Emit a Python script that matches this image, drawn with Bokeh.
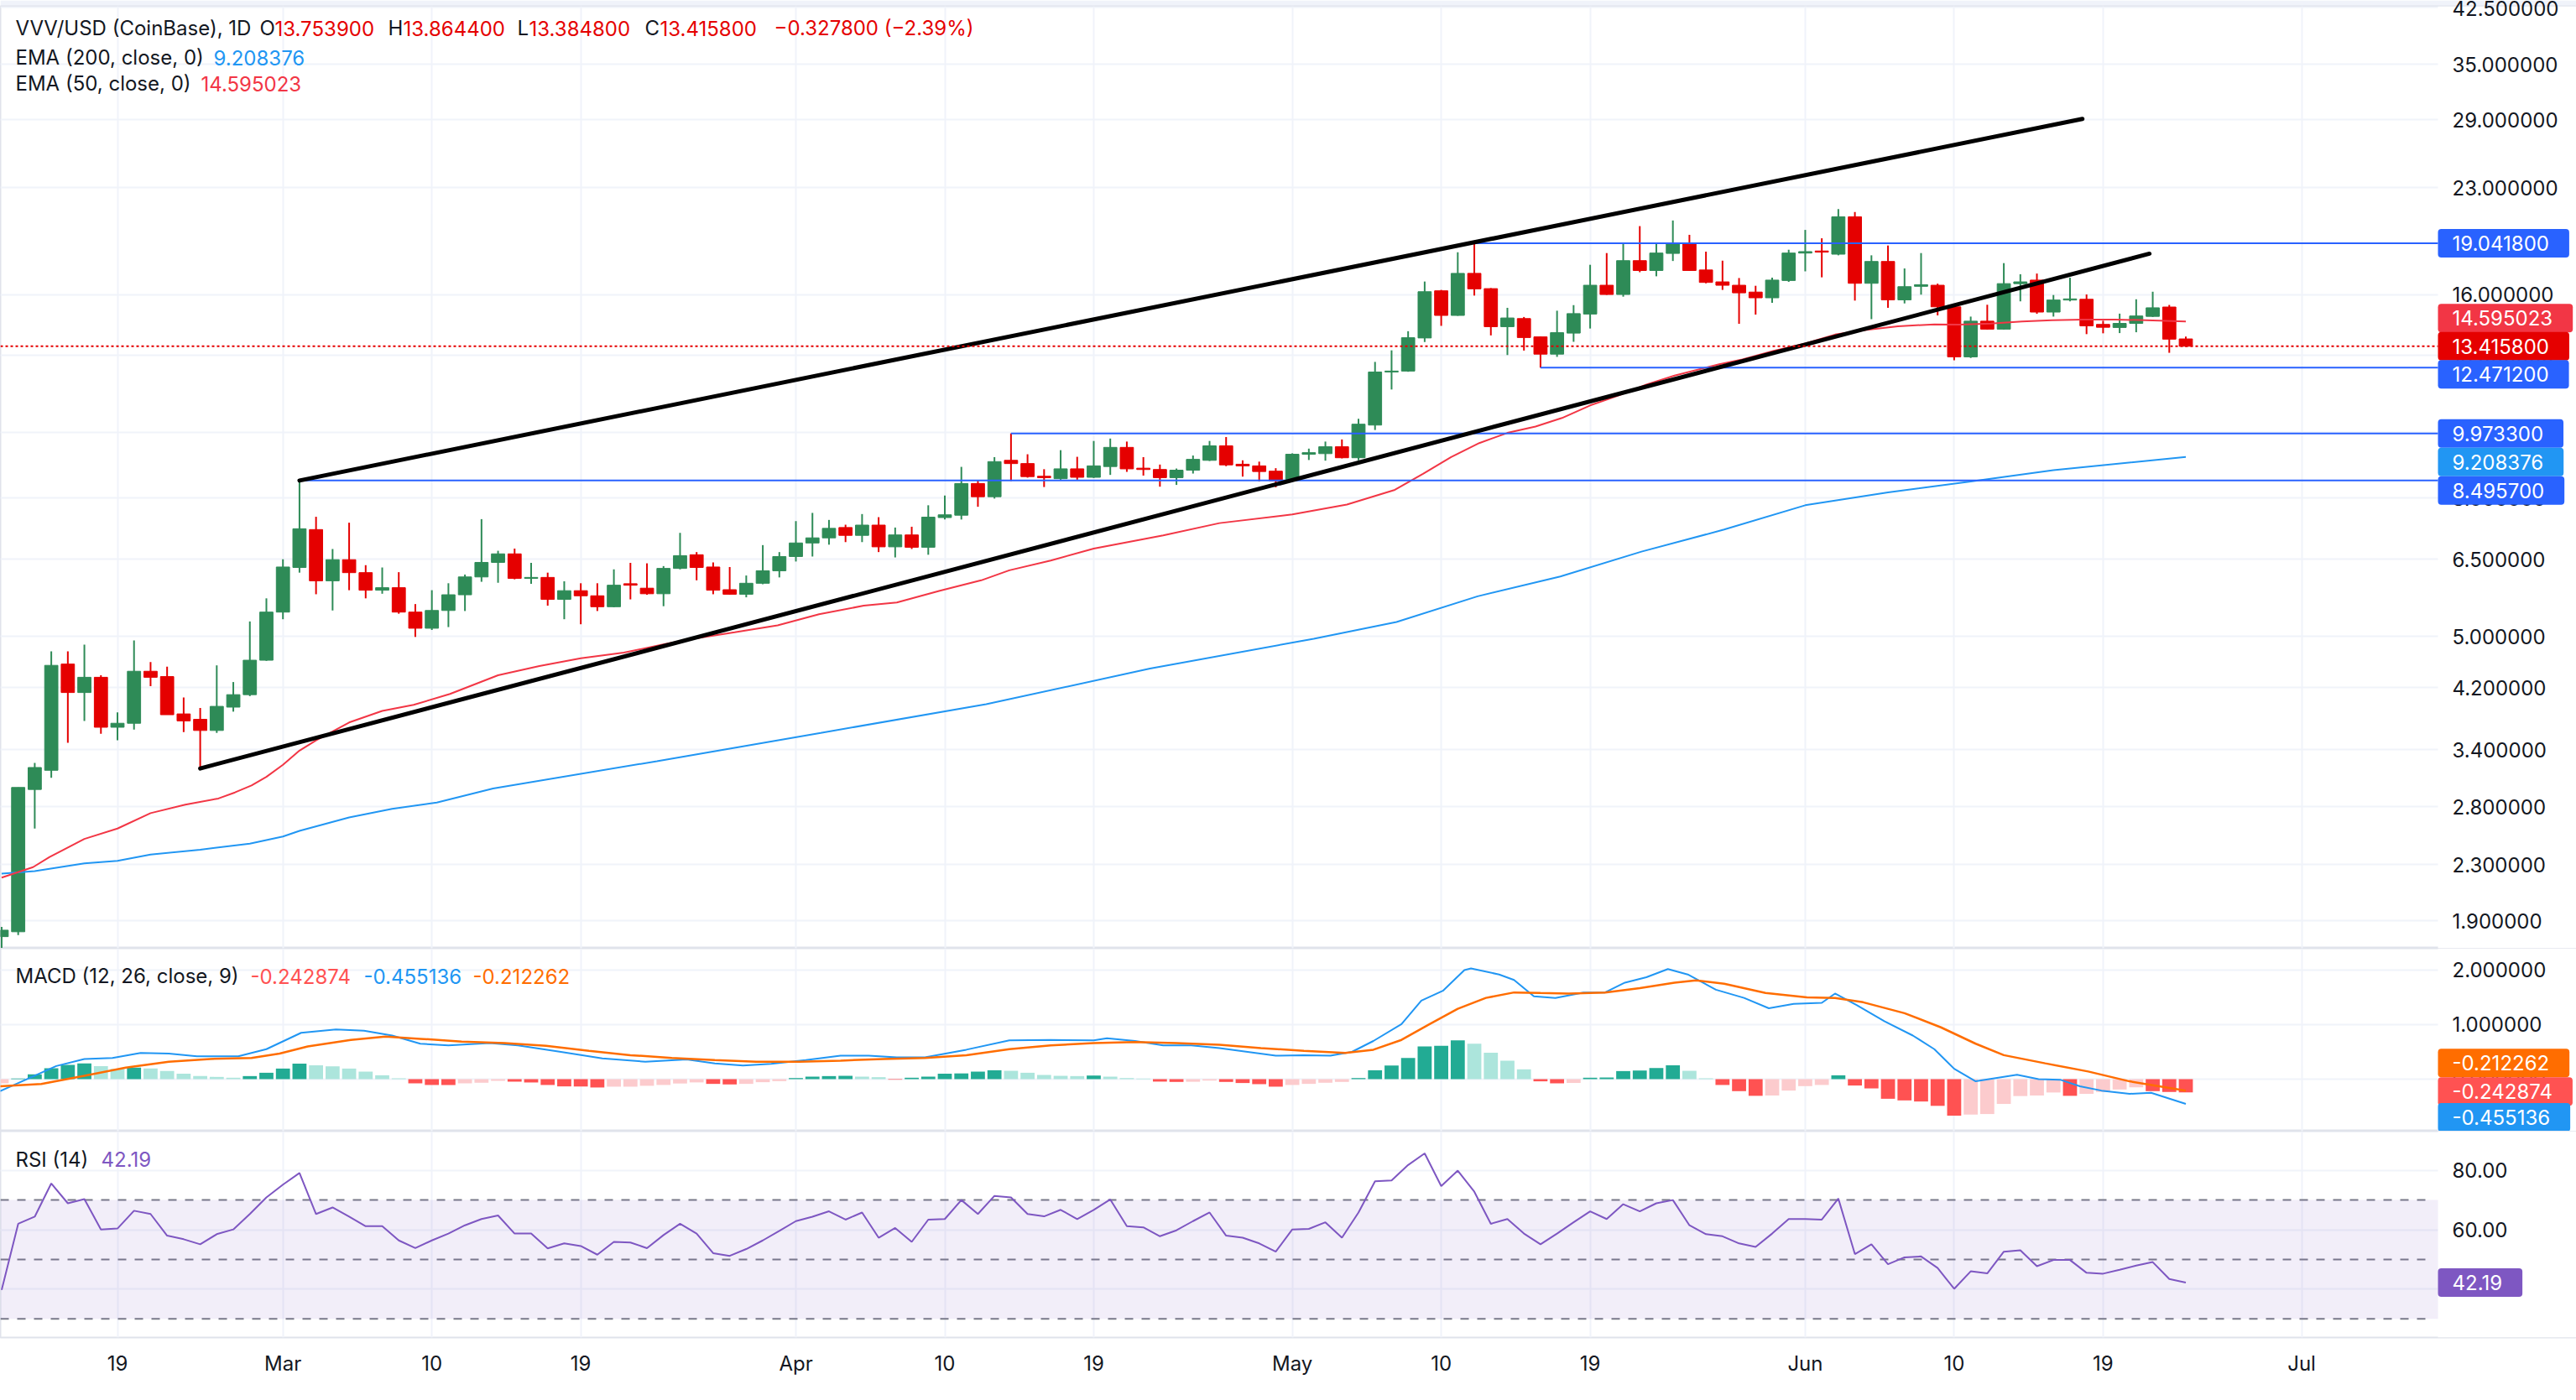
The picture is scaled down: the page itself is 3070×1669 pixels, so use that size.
import pandas as pd
from bokeh.plotting import figure
from bokeh.layouts import column
from bokeh.models import (Range1d, FixedTicker, PrintfTickFormatter, Grid, Label,
                          BoxAnnotation, ColumnDataSource)
from bokeh.embed import file_html
from bokeh.resources import INLINE

# ------------------------------------------------------------------ data
start_date = "2025-02-12"          # first daily candle (VVV/USD, CoinBase, 1D)
origin_date = "2025-02-19"         # day index 0

opens = [1.80, 1.83, 2.97, 3.17, 4.55, 4.13, 4.35, 3.67, 3.72, 4.44,
         4.36, 3.84, 3.77, 3.63, 3.93, 4.10, 4.61, 5.43, 6.32, 7.19,
         6.04, 6.49, 6.21, 5.85, 5.90, 5.43, 5.14, 5.46, 5.76, 6.12,
         6.43, 6.62, 6.09, 6.11, 5.67, 5.84, 5.74, 5.53, 5.98, 5.89,
         5.78, 6.30, 6.60, 6.33, 5.86, 5.77, 5.99, 6.25, 6.56, 6.87,
         6.99, 7.24, 7.05, 7.30, 6.78, 7.06, 6.77, 7.49, 7.55, 8.41,
         8.04, 9.10, 9.00, 8.62, 8.55, 8.84, 8.59, 8.91, 9.51, 8.86,
         8.82, 8.58, 8.80, 9.10, 9.56, 8.98, 8.93, 8.77, 8.50, 9.29,
         9.31, 9.53, 9.18, 10.26, 12.29, 12.33, 13.80, 16.20, 14.90, 17.19,
         16.32, 14.34, 14.74, 13.85, 13.06, 14.03, 14.97, 16.51, 16.00, 17.95,
         17.36, 18.40, 19.04, 17.39, 16.70, 16.51, 16.13, 15.82, 16.78, 18.42,
         18.55, 18.35, 20.84, 16.62, 17.90, 15.71, 16.45, 16.51, 15.34, 12.94,
         14.61, 14.22, 16.60, 16.80, 15.07, 15.70, 15.74, 14.45, 14.30, 14.50,
         14.85, 15.33, 13.7539]
highs = [1.86, 2.99, 3.25, 4.75, 4.75, 4.86, 4.38, 3.86, 4.93, 4.58,
         4.51, 4.06, 3.92, 4.53, 4.28, 5.26, 5.69, 6.50, 8.4957, 7.51,
         6.73, 7.36, 6.37, 6.32, 6.22, 5.58, 5.85, 5.99, 6.17, 7.45,
         6.69, 6.74, 6.42, 6.21, 6.03, 5.99, 5.99, 6.28, 6.42, 6.41,
         6.35, 7.11, 6.66, 6.43, 6.33, 6.15, 6.82, 6.66, 7.40, 7.61,
         7.43, 7.31, 7.58, 7.50, 7.24, 7.26, 7.81, 8.07, 8.90, 8.50,
         9.20, 9.9733, 9.29, 8.83, 9.42, 9.21, 9.72, 9.80, 9.70, 9.20,
         8.97, 8.85, 9.25, 9.72, 9.85, 9.10, 9.06, 8.86, 9.32, 9.47,
         9.70, 9.77, 10.48, 12.72, 13.23, 14.12, 16.72, 16.25, 18.47, 19.0418,
         16.35, 15.29, 14.82, 13.87, 15.14, 15.43, 17.70, 18.42, 19.04, 20.19,
         19.06, 20.58, 19.60, 18.51, 17.95, 16.92, 16.48, 16.94, 18.63, 19.93,
         19.37, 21.40, 21.18, 18.28, 18.90, 17.48, 18.42, 16.60, 15.46, 14.84,
         15.45, 17.80, 17.14, 17.18, 15.97, 16.94, 16.00, 14.63, 14.99, 15.74,
         16.15, 15.44, 13.8644]
lows = [1.72, 1.81, 2.60, 3.09, 3.48, 3.75, 3.59, 3.51, 3.64, 4.22,
        3.83, 3.61, 3.19, 3.60, 3.87, 4.08, 4.60, 5.30, 6.21, 5.77,
        5.46, 5.85, 5.69, 5.78, 5.40, 4.99, 5.11, 5.16, 5.45, 6.02,
        6.00, 6.07, 5.98, 5.55, 5.30, 5.21, 5.45, 5.52, 5.67, 5.76,
        5.54, 6.28, 6.05, 5.77, 5.76, 5.71, 5.97, 6.11, 6.45, 6.56,
        6.83, 6.89, 6.89, 6.66, 6.54, 6.73, 6.60, 7.44, 7.44, 7.77,
        7.99, 8.48, 8.58, 8.31, 8.52, 8.52, 8.57, 8.66, 8.75, 8.64,
        8.32, 8.37, 8.70, 9.08, 8.92, 8.61, 8.47, 8.30, 8.48, 9.11,
        9.09, 9.16, 9.10, 10.09, 11.58, 12.30, 13.61, 14.38, 14.88, 15.94,
        13.92, 13.02, 13.22, 12.4712, 12.94, 13.62, 14.25, 15.98, 15.88, 17.26,
        17.02, 17.93, 17.34, 16.62, 16.25, 14.48, 14.94, 15.55, 16.70, 17.31,
        16.96, 18.28, 15.67, 14.71, 15.29, 15.52, 15.99, 14.90, 12.79, 12.89,
        14.20, 14.20, 15.63, 14.98, 14.84, 15.63, 13.98, 14.02, 14.03, 14.07,
        14.82, 13.12, 13.3848]
closes = [1.84, 2.99, 3.20, 4.53, 4.13, 4.35, 3.67, 3.72, 4.44, 4.35,
          3.83, 3.75, 3.63, 3.94, 4.10, 4.61, 5.43, 6.33, 7.21, 6.04,
          6.49, 6.21, 5.85, 5.90, 5.43, 5.14, 5.46, 5.76, 6.12, 6.43,
          6.62, 6.09, 6.11, 5.67, 5.84, 5.74, 5.53, 5.95, 5.95, 5.78,
          6.30, 6.58, 6.32, 5.85, 5.77, 5.99, 6.25, 6.56, 6.87, 6.99,
          7.22, 7.05, 7.30, 6.78, 7.06, 6.77, 7.50, 7.56, 8.41, 8.04,
          9.06, 9.00, 8.61, 8.58, 8.84, 8.59, 8.93, 9.51, 8.84, 8.82,
          8.58, 8.80, 9.13, 9.56, 8.96, 8.93, 8.76, 8.49, 9.29, 9.34,
          9.53, 9.18, 10.29, 12.29, 12.33, 13.81, 16.15, 14.90, 17.19, 16.31,
          14.34, 14.77, 13.82, 13.06, 14.05, 14.99, 16.51, 16.00, 17.95, 17.36,
          18.42, 19.04, 17.36, 16.67, 16.51, 16.09, 15.82, 16.80, 18.42, 18.51,
          18.48, 20.84, 16.62, 17.90, 15.71, 16.43, 16.54, 15.34, 12.94, 14.61,
          14.22, 16.60, 16.70, 15.07, 15.70, 15.76, 14.38, 14.31, 14.50, 14.87,
          15.29, 13.7436, 13.4158]

ema50_days = [-7, -5.1, -4.1, -2, 0, 2, 4.1, 6.1, 7.1, 8.1, 9, 10, 11, 12, 14, 16, 17.9, 20.1,
              23, 25.5, 28, 30.6, 33.1, 34.8, 37.3, 39.9, 42.4, 45.1, 47.1, 49.7, 52.2, 53.9,
              56.4, 59, 63.2, 66.6, 71, 74.3, 77.2, 78.9, 80.6, 82.3, 84, 85.7, 87.3, 89, 90.7,
              92.4, 94.1, 96.8, 98.2, 100.1, 102, 103.8, 105.7, 107.6, 109.8, 111.3, 113.2,
              115.1, 116.9, 118.8, 120.7, 122.6, 125]
ema50_vals = [2.20, 2.28, 2.36, 2.51, 2.60, 2.74, 2.82, 2.88, 2.94, 3.01, 3.10, 3.23, 3.39, 3.51,
              3.73, 3.88, 3.96, 4.11, 4.38, 4.52, 4.64, 4.73, 4.87, 4.96, 5.07, 5.19, 5.39, 5.55,
              5.61, 5.84, 6.05, 6.26, 6.47, 6.74, 7.05, 7.35, 7.57, 7.83, 8.23, 8.69, 9.20, 9.65,
              9.99, 10.21, 10.51, 10.97, 11.34, 11.78, 12.14, 12.62, 12.83, 13.21, 13.54, 13.96,
              14.18, 14.36, 14.45, 14.44, 14.49, 14.59, 14.66, 14.69, 14.69, 14.66, 14.595023]
ema200_days = [-7, -5, -2, 0, 2, 5, 8, 10, 11, 14, 16.6, 19.3, 22.7, 32.6, 42.5, 52.5, 62.4,
               72.3, 77.3, 82.2, 87.2, 92.1, 97.1, 102, 107, 112, 117, 125]
ema200_vals = [2.23, 2.25, 2.31, 2.33, 2.38, 2.42, 2.47, 2.53, 2.58, 2.70, 2.78, 2.84, 2.98, 3.27,
               3.60, 3.97, 4.48, 4.96, 5.25, 5.73, 6.13, 6.67, 7.19, 7.81, 8.16, 8.47, 8.80, 9.208376]

macd_days = [-7.1, -5.4, -3.7, -2.0, -0.3, 1.4, 3.1, 4.8, 7.3, 9.0, 11.1, 13.2, 14.9, 16.6, 18.3,
             20.0, 22.5, 24.2, 26.8, 29.3, 31.9, 34.4, 36.1, 37.8, 39.5, 41.6, 43.7, 45.4, 47.1,
             48.8, 51.3, 53.9, 56.4, 59.0, 59.8, 61.5, 63.2, 64.9, 66.6, 68.3, 70.0, 71.7, 73.3,
             74.6, 75.9, 77.6, 78.8, 80.1, 81.4, 81.8, 83.5, 84.4, 85.6, 86.9, 88.6, 89.9, 91.1,
             92.4, 93.7, 94.9, 96.6, 98.3, 99.8, 101.3, 103.0, 103.8, 105.1, 106.8, 108.5, 109.8,
             111.0, 112.3, 114.8, 116.1, 117.4, 118.6, 119.9, 121.6, 122.9, 125]
macd_vals = [-0.22, 0.01, 0.24, 0.37, 0.39, 0.48, 0.47, 0.42, 0.42, 0.55, 0.85, 0.91, 0.89, 0.80,
             0.65, 0.62, 0.66, 0.62, 0.50, 0.38, 0.32, 0.36, 0.29, 0.25, 0.28, 0.35, 0.43, 0.43,
             0.40, 0.40, 0.54, 0.71, 0.72, 0.71, 0.75, 0.70, 0.62, 0.62, 0.57, 0.50, 0.43, 0.44,
             0.43, 0.50, 0.70, 1.01, 1.44, 1.62, 2.00, 2.03, 1.92, 1.82, 1.52, 1.49, 1.59, 1.59,
             1.77, 1.87, 2.02, 1.92, 1.64, 1.49, 1.30, 1.38, 1.40, 1.57, 1.36, 1.06, 0.80, 0.55,
             0.19, -0.04, 0.08, 0.00, -0.01, -0.13, -0.21, -0.27, -0.25, -0.455136]
signal_days = [-7.1, -4.6, -2.0, 0.5, 3.1, 5.6, 8.1, 9.8, 11.5, 14.1, 16.2, 18.3, 20.8, 23.4, 25.9,
               28.5, 31.0, 33.5, 36.1, 38.6, 41.2, 43.7, 46.3, 48.8, 51.3, 53.9, 56.4, 59.0, 61.5,
               64.0, 66.6, 69.1, 71.7, 74.2, 75.9, 77.6, 79.3, 81.0, 82.7, 84.4, 86.0, 87.7, 89.9,
               92.0, 94.1, 95.4, 97.1, 99.6, 102.1, 103.8, 105.5, 108.0, 110.2, 112.3, 114.0, 116.5,
               119.1, 121.6, 125]
signal_vals = [-0.13, -0.09, 0.06, 0.21, 0.32, 0.37, 0.39, 0.47, 0.60, 0.72, 0.78, 0.74, 0.69, 0.66,
               0.61, 0.52, 0.44, 0.39, 0.35, 0.32, 0.32, 0.34, 0.37, 0.39, 0.44, 0.55, 0.62, 0.66,
               0.68, 0.66, 0.63, 0.57, 0.52, 0.48, 0.54, 0.72, 1.01, 1.29, 1.49, 1.59, 1.58, 1.57,
               1.59, 1.67, 1.77, 1.81, 1.75, 1.58, 1.50, 1.49, 1.41, 1.21, 0.95, 0.65, 0.44, 0.29,
               0.14, -0.04, -0.212262]
hist_vals = [-0.077, 0.010, 0.087, 0.200, 0.260, 0.290, 0.240, 0.190, 0.210, 0.195,
             0.150, 0.100, 0.056, 0.041, 0.026, 0.056, 0.117, 0.194, 0.286, 0.255,
             0.235, 0.194, 0.138, 0.071, 0.015, -0.077, -0.107, -0.108, -0.077, -0.066,
             -0.031, -0.046, -0.061, -0.107, -0.133, -0.135, -0.153, -0.138, -0.138, -0.122,
             -0.107, -0.080, -0.060, -0.087, -0.097, -0.087, -0.056, -0.036, 0.020, 0.046,
             0.056, 0.061, 0.046, 0.036, -0.010, 0.026, 0.046, 0.100, 0.105, 0.138,
             0.163, 0.153, 0.117, 0.077, 0.061, 0.056, 0.066, 0.046, 0.020, 0.010,
             -0.045, -0.051, -0.048, -0.026, -0.051, -0.071, -0.092, -0.138, -0.107, -0.087,
             -0.066, -0.051, 0.020, 0.163, 0.250, 0.390, 0.600, 0.610, 0.710, 0.650,
             0.485, 0.340, 0.180, -0.040, -0.077, -0.070, 0.026, 0.030, 0.148, 0.158,
             0.204, 0.255, 0.153, 0.015, -0.107, -0.220, -0.306, -0.300, -0.210, -0.128,
             -0.107, 0.070, -0.117, -0.170, -0.360, -0.390, -0.410, -0.490, -0.670, -0.650,
             -0.640, -0.455, -0.310, -0.300, -0.245, -0.306, -0.270, -0.235, -0.190, -0.150,
             -0.220, -0.235, -0.242874]
rsi_vals = [39.7, 62.0, 64.4, 75.6, 68.9, 70.3, 60.1, 60.4, 66.4, 65.3,
            58.0, 56.8, 55.1, 58.5, 60.1, 65.3, 70.9, 75.2, 79.1, 65.3,
            67.5, 64.4, 61.2, 61.2, 56.4, 53.8, 56.4, 58.7, 61.5, 63.6,
            64.8, 58.7, 58.7, 53.7, 55.4, 54.5, 51.6, 55.9, 55.7, 53.8,
            58.2, 62.0, 58.7, 52.1, 51.2, 53.5, 56.4, 59.6, 62.9, 64.4,
            66.2, 63.4, 65.8, 57.3, 60.6, 55.9, 63.4, 63.6, 70.0, 65.3,
            71.4, 70.9, 65.3, 64.5, 66.7, 63.6, 66.7, 70.2, 61.2, 60.8,
            57.8, 59.8, 62.9, 65.8, 58.0, 57.3, 55.4, 52.6, 60.1, 60.3,
            62.5, 57.3, 65.8, 76.3, 76.6, 81.8, 85.7, 74.7, 79.9, 72.8,
            62.0, 63.6, 58.7, 55.1, 58.7, 62.5, 66.2, 63.6, 68.6, 66.2,
            68.9, 70.0, 61.5, 58.5, 57.8, 55.4, 54.2, 58.7, 63.6, 63.6,
            63.4, 70.5, 51.8, 55.1, 48.4, 50.7, 51.0, 47.1, 40.1, 46.0,
            45.3, 52.6, 53.1, 47.7, 49.8, 49.8, 45.5, 45.2, 46.5, 47.9,
            49.1, 43.4, 42.19]

# horizontal levels: start candle (day index) and which extreme of that candle
level_days = [82, 86, 54, 11]
level_kind = ["high", "low", "high", "high"]
# channel trend lines (day index, price)
upper_days = [11, 118.75]
upper_vals = [8.4957, 29.07]
lower_days = [5, 122.8]
lower_vals = [3.19, 18.38]
rsi_levels = [70, 50, 30]

tick_dates = ["2025-02-19", "2025-03-01", "2025-03-10", "2025-03-19", "2025-04-01", "2025-04-10",
              "2025-04-19", "2025-05-01", "2025-05-10", "2025-05-19", "2025-06-01", "2025-06-10",
              "2025-06-19", "2025-07-01"]
tick_labels = ["19", "Mar", "10", "19", "Apr", "10", "19", "May", "10", "19", "Jun", "10", "19", "Jul"]
price_ticks = [1.9, 2.3, 2.8, 3.4, 4.2, 5.0, 6.5, 8.0, 10.0, 13.0, 16.0, 23.0, 29.0, 35.0, 42.5]
macd_ticks = [0, 1, 2]
rsi_ticks = [40, 60, 80]

# ------------------------------------------------------------------ style
FONT = "Inter"
TXT = "#131722"
UP = "#2e8b57"
DOWN = "#e50000"
GRID = "#f0f3fa"
SEP = "#e0e3eb"
BLUE_LVL = "#2962ff"
EMA200_C = "#2196f3"
EMA50_C = "#f23645"
FS = "24px"

origin = pd.Timestamp(origin_date)
dates = pd.date_range(start_date, periods=len(closes), freq="D")
days = [(d - origin).days for d in dates]
tick_days = [(pd.Timestamp(t) - origin).days for t in tick_dates]

PX_PER_DAY = 19.72
TOTAL_W = 3070          # frame spans the whole width; price scale sits on its right part
PLOT_W = 2905           # width of the chart area left of the price scale
x_start = -139.5 / PX_PER_DAY
x_edge = x_start + PLOT_W / PX_PER_DAY
x_end = x_start + TOTAL_W / PX_PER_DAY
xr = Range1d(x_start, x_end)


def make_fig(h, yr, ytype="linear", top=0, bottom=0, xaxis=None):
    p = figure(frame_width=TOTAL_W, frame_height=h, x_range=xr, y_range=yr, y_axis_type=ytype,
               x_axis_location=xaxis, y_axis_location="right", toolbar_location=None,
               output_backend="svg", title=None, min_border_left=0, min_border_right=0,
               min_border_top=top, min_border_bottom=bottom)
    p.background_fill_color = "white"
    p.border_fill_color = "white"
    p.outline_line_color = SEP
    p.outline_line_width = 2
    for g in p.xgrid:
        g.visible = False
    p.add_layout(Grid(dimension=0, ticker=FixedTicker(ticks=tick_days),
                      grid_line_color=GRID, grid_line_width=2))
    return p


def style_y(p, ticks, fmt):
    ax = p.yaxis[0]
    ax.ticker = FixedTicker(ticks=ticks)
    ax.formatter = PrintfTickFormatter(format=fmt)
    ax.axis_line_color = None
    ax.major_tick_line_color = None
    ax.minor_tick_line_color = None
    ax.major_tick_out = 0
    ax.major_tick_in = 0
    ax.major_label_standoff = -(TOTAL_W - PLOT_W - 17)
    ax.major_label_text_font = FONT
    ax.major_label_text_font_size = FS
    ax.major_label_text_color = TXT
    p.ygrid.ticker = FixedTicker(ticks=ticks)
    p.ygrid.grid_line_color = GRID
    p.ygrid.grid_line_width = 2
    # price-scale area: keep it clean of grid lines
    p.add_layout(BoxAnnotation(left=x_edge, fill_color="white", fill_alpha=1.0,
                               line_color=None, level="underlay"))


def text(p, x, y, s, color):
    p.add_layout(Label(x=x, y=y, x_units="screen", y_units="screen", text=s, text_color=color,
                       text_font=FONT, text_font_size=FS, text_align="left",
                       text_baseline="middle"))


def tag(p, val, s, color, yoff=0):
    p.add_layout(Label(x=PLOT_W, y=val, x_units="screen", y_units="data", text=s,
                       text_color="white", text_font=FONT, text_font_size=FS,
                       text_align="left", text_baseline="middle", y_offset=yoff,
                       background_fill_color=color, background_fill_alpha=1.0,
                       border_radius=4,
                       padding=dict(left=17, right=24, top=8, bottom=8)))


# ------------------------------------------------------------------ main pane
MAIN_H = 1123
p1 = make_fig(MAIN_H, Range1d(1.730, 42.65), ytype="log", top=7)
p1.border_fill_color = "#f0f3fa"
style_y(p1, price_ticks, "%.6f")

colors = [UP if c >= o else DOWN for o, c in zip(opens, closes)]
src = ColumnDataSource(dict(x=days, o=opens, h=highs, l=lows, c=closes,
                            top=[max(o, c) for o, c in zip(opens, closes)],
                            bot=[min(o, c) for o, c in zip(opens, closes)],
                            color=colors))
p1.segment("x", "l", "x", "h", source=src, line_color="color", line_width=2)
p1.vbar(x="x", width=0.8, top="top", bottom="bot", source=src,
        fill_color="color", line_color="color", line_width=1)

p1.line(ema200_days, ema200_vals, line_color=EMA200_C, line_width=2)
p1.line(ema50_days, ema50_vals, line_color=EMA50_C, line_width=2)

lvl_vals = [highs[days.index(d)] if k == "high" else lows[days.index(d)]
            for d, k in zip(level_days, level_kind)]
p1.segment(x0=level_days, y0=lvl_vals, x1=[x_edge] * len(level_days), y1=lvl_vals,
           line_color=BLUE_LVL, line_width=2)
p1.line(upper_days, upper_vals, line_color="black", line_width=5, line_cap="round")
p1.line(lower_days, lower_vals, line_color="black", line_width=5, line_cap="round")

# last-price dotted line
p1.segment(x0=[x_start], y0=[closes[-1]], x1=[x_edge], y1=[closes[-1]],
           line_color="#e50000", line_width=2, line_dash="3 3")

# right price tags (stacked like the price scale does)
tag(p1, lvl_vals[0], f"{lvl_vals[0]:.6f}", BLUE_LVL)
tag(p1, ema50_vals[-1], f"{ema50_vals[-1]:.6f}", EMA50_C, 4)
tag(p1, closes[-1], f"{closes[-1]:.6f}", "#e50000")
tag(p1, lvl_vals[1], f"{lvl_vals[1]:.6f}", BLUE_LVL, -8)
tag(p1, lvl_vals[2], f"{lvl_vals[2]:.6f}", BLUE_LVL)
tag(p1, ema200_vals[-1], f"{ema200_vals[-1]:.6f}", EMA200_C, -6)
tag(p1, lvl_vals[3], f"{lvl_vals[3]:.6f}", BLUE_LVL, -12)

# legend (top-left)
chg = closes[-1] - closes[-2]
pct = chg / closes[-2] * 100
chg_s = f"{chg:.6f} ({pct:.2f}%)".replace("-", "\u2212")
L1 = MAIN_H - 33 + 7
text(p1, 18, L1, "VVV/USD (CoinBase), 1D", TXT)
for letter, lx, v in [("O", 309, opens[-1]), ("H", 462, highs[-1]),
                      ("L", 616, lows[-1]), ("C", 768, closes[-1])]:
    text(p1, lx, L1, letter, TXT)
    text(p1, lx + (14 if letter == "L" else 18), L1, f"{v:.6f}", "#e50000")
text(p1, 922, L1, chg_s, "#e50000")
text(p1, 18, MAIN_H - 68 + 7, "EMA (200, close, 0)", TXT)
text(p1, 254, MAIN_H - 68 + 7, f"{ema200_vals[-1]:.6f}", EMA200_C)
text(p1, 18, MAIN_H - 99 + 7, "EMA (50, close, 0)", TXT)
text(p1, 239, MAIN_H - 99 + 7, f"{ema50_vals[-1]:.6f}", EMA50_C)

# ------------------------------------------------------------------ MACD pane
MACD_H = 218
p2 = make_fig(MACD_H, Range1d(-0.954, 2.40))
style_y(p2, macd_ticks, "%.6f")
hcol = []
for i, h in enumerate(hist_vals):
    prev = hist_vals[i - 1] if i > 0 else h
    if h >= 0:
        hcol.append("#22ab94" if h > prev or i == 0 else "#ace5dc")
    else:
        hcol.append("#ff5252" if h < prev else "#fccbcd")
p2.vbar(x=days, top=hist_vals, bottom=0, width=0.85, fill_color=hcol, line_color=None)
p2.line(macd_days, macd_vals, line_color="#2196f3", line_width=2)
p2.line(signal_days, signal_vals, line_color="#ff6d00", line_width=2.5)
tag(p2, signal_vals[-1], f"{signal_vals[-1]:.6f}", "#ff6d00", 33)
tag(p2, hist_vals[-1], f"{hist_vals[-1]:.6f}", "#ff5252", 1)
tag(p2, macd_vals[-1], f"{macd_vals[-1]:.6f}", "#2196f3", -16)
text(p2, 18, MACD_H - 33, "MACD (12, 26, close, 9)", TXT)
text(p2, 298, MACD_H - 33, f"{hist_vals[-1]:.6f}", "#ff5252")
text(p2, 433, MACD_H - 33, f"{macd_vals[-1]:.6f}", "#2196f3")
text(p2, 563, MACD_H - 33, f"{signal_vals[-1]:.6f}", "#ff6d00")

# ------------------------------------------------------------------ RSI pane
RSI_H = 246
p3 = make_fig(RSI_H, Range1d(23.7, 93.2), bottom=57, xaxis="below")
style_y(p3, rsi_ticks, "%.2f")
p3.add_layout(BoxAnnotation(bottom=rsi_levels[-1], top=rsi_levels[0], right=x_edge,
                            fill_color="#7e57c2", fill_alpha=0.1, line_color=None))
p3.segment(x0=[x_start] * 3, y0=rsi_levels, x1=[x_edge - 0.6] * 3, y1=rsi_levels,
           line_color="#787b86", line_width=2, line_dash="10 10")
p3.line(days, rsi_vals, line_color="#7e57c2", line_width=2)
tag(p3, rsi_vals[-1], f"{rsi_vals[-1]:.2f}", "#7e57c2")
text(p3, 18, RSI_H - 33.5, "RSI (14)", TXT)
text(p3, 120, RSI_H - 33.5, f"{rsi_vals[-1]:.2f}", "#7e57c2")

xa = p3.xaxis[0]
xa.ticker = FixedTicker(ticks=tick_days)
xa.major_label_overrides = {d: s for d, s in zip(tick_days, tick_labels)}
xa.axis_line_color = None
xa.major_tick_line_color = None
xa.minor_tick_line_color = None
xa.major_tick_out = 0
xa.major_tick_in = 0
xa.major_label_standoff = 16
xa.major_label_text_font = FONT
xa.major_label_text_font_size = FS
xa.major_label_text_color = TXT

layout = column(p1, p2, p3, spacing=0)
with open("out.html", "w", encoding="utf-8") as f:
    f.write(file_html(layout, INLINE, title="VVV/USD"))
